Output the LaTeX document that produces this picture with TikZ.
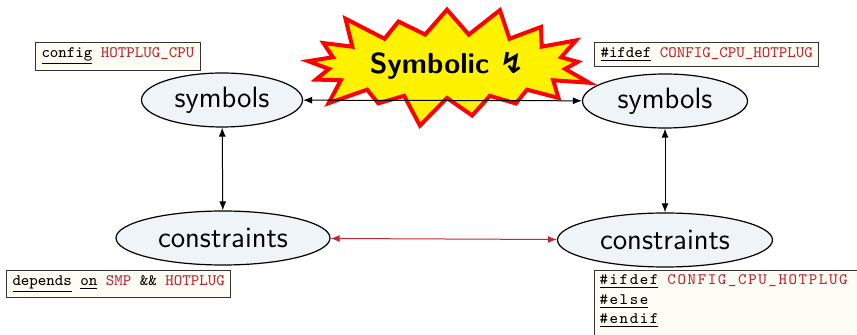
\documentclass[tikz,border=0pt]{standalone}
\usepackage{fontspec}
\usetikzlibrary{shapes.geometric,shapes.symbols,arrows.meta}
\newfontfamily\spacedtt[LetterSpace=10]{Latin Modern Mono}
\newfontfamily\symfont{DejaVu Sans}
\definecolor{kwred}{RGB}{192,40,55}
\definecolor{ellfill}{RGB}{239,244,248}
\definecolor{codefill}{RGB}{253,253,243}
\newcommand{\kw}[1]{\underline{#1}}
\newcommand{\nm}[1]{\textcolor{kwred}{#1}}
\tikzset{
  ent/.style={ellipse, draw=black, line width=0.6pt, fill=ellfill,
    font=\fontsize{14.7}{17}\selectfont\sffamily, inner sep=0pt, minimum height=27pt},
  code/.style={draw=black!80, line width=0.5pt, fill=codefill,
    font=\fontsize{8}{10}\selectfont\ttfamily, inner xsep=3pt, inner ysep=2.5pt,
    anchor=north west, align=left},
  link/.style={{Latex[length=4.5pt,width=3.5pt]}-{Latex[length=4.5pt,width=3.5pt]}, line width=0.5pt},
}
\begin{document}
\begin{tikzpicture}[x=0.5pt,y=-0.5pt]
  \useasboundingbox (0,0) rectangle (857,335);
  \clip (0,0) rectangle (857,335);

  % entities
  \node[ent, minimum width=80.5pt] (symL) at (222,100) {symbols};
  \node[ent, minimum width=82.5pt] (symR) at (665,101) {symbols};
  \node[ent, minimum width=107pt] (conL) at (223,238) {constraints};
  \node[ent, minimum width=107.5pt] (conR) at (665,240) {constraints};

  % code annotations
  \node[code] (cfg) at (35,42) {\kw{config} \nm{HOTPLUG\_CPU}};
  \node[code] (ifd) at (594,42) {\kw{\#ifdef} \nm{CONFIG\_CPU\_HOTPLUG}};
  \node[code] (dep) at (6,270) {\kw{depends} \kw{on} \nm{SMP} \&\& \nm{HOTPLUG}};
  \node[code, font=\fontsize{8}{9.8}\selectfont\spacedtt, text width=150pt,
        inner xsep=2.5pt, inner ysep=2pt] (cpp) at (594,270)
    {\kw{\#ifdef}\hspace{4.5pt}\nm{CONFIG\_CPU\_HOTPLUG}\\\kw{\#else}\\\kw{\#endif}\\\strut};

  % the warning burst
  \node[starburst, fill=yellow, draw=red, line width=2pt,
        minimum width=150pt, minimum height=66pt,
        starburst points=17, starburst point height=17pt,
        font=\fontsize{14.5}{17}\selectfont\sffamily\bfseries] (burst) at (447,66)
    {Symbolic {\symfont\bfseries ↯}};

  % connections
  \draw[link] (symL) -- (symR);
  \draw[link] (symL) -- (conL);
  \draw[link] (symR) -- (conR);
  \draw[link, kwred] (conL) -- (conR);
\end{tikzpicture}
\end{document}
